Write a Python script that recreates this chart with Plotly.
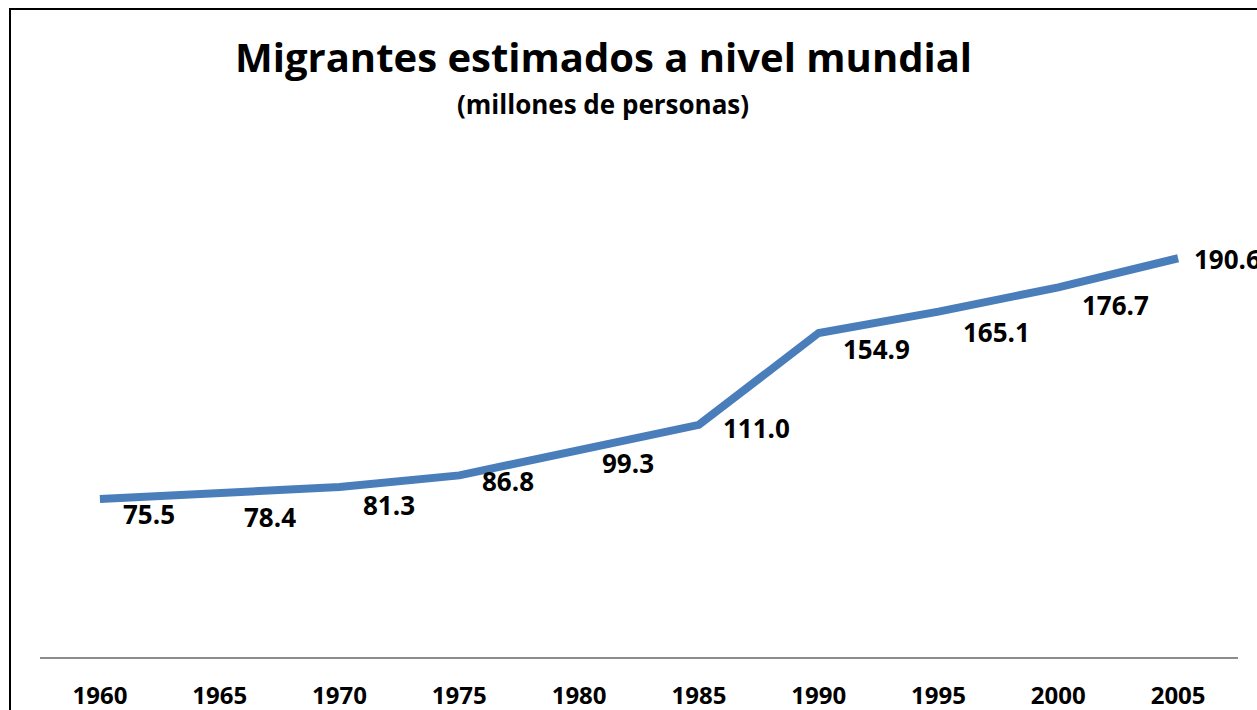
import plotly.graph_objects as go

years = ["1960", "1965", "1970", "1975", "1980", "1985", "1990", "1995", "2000", "2005"]
migrants = [75.5, 78.4, 81.3, 86.8, 99.3, 111.0, 154.9, 165.1, 176.7, 190.6]
title_text = "Migrantes estimados a nivel mundial"
subtitle_text = "(millones de personas)"

# label placement offsets in pixels (style only)
label_dx = [21, 22, 21, 21, 21, 22, 22, 22, 22, 14]
label_dy = [15, 24, 18, 6, 14, 3, 16, 20, 18, 1]

FONT = "Open Sans"
LINE_COLOR = "#4A7EBB"

W, H = 1257, 710
L, R, T, B = 40, 19, 134, 53
plot_h = H - T - B
plot_w = W - L - R

def px_to_paper_y(y):
    return (H - B - y) / plot_h

def px_to_paper_x(x):
    return (x - L) / plot_w

fig = go.Figure()
fig.add_trace(go.Scatter(
    x=years, y=migrants, mode="lines",
    line=dict(color=LINE_COLOR, width=8),
    hoverinfo="x+y",
))

annotations = []
for i, (v, dx, dy) in enumerate(zip(migrants, label_dx, label_dy)):
    annotations.append(dict(
        x=i, y=v, xref="x", yref="y", text=f"<b>{v:.1f}</b>",
        showarrow=False, xanchor="left", yanchor="middle",
        xshift=dx, yshift=-dy,
        font=dict(family=FONT, size=26, color="#000000"),
    ))

annotations.append(dict(
    x=px_to_paper_x(603), y=px_to_paper_y(57), xref="paper", yref="paper",
    text=f"<b>{title_text}</b>", showarrow=False, xanchor="center", yanchor="middle",
    font=dict(family=FONT, size=40, color="#000000"),
))
annotations.append(dict(
    x=px_to_paper_x(603), y=px_to_paper_y(104), xref="paper", yref="paper",
    text=f"<b>{subtitle_text}</b>", showarrow=False, xanchor="center", yanchor="middle",
    font=dict(family=FONT, size=26, color="#000000"),
))

fig.update_layout(
    width=W, height=H,
    margin=dict(l=L, r=R, t=T, b=B, pad=0),
    paper_bgcolor="white", plot_bgcolor="white",
    showlegend=False,
    annotations=annotations,
    shapes=[dict(
        type="rect", xref="paper", yref="paper",
        x0=px_to_paper_x(10), x1=px_to_paper_x(1400),
        y0=px_to_paper_y(800), y1=px_to_paper_y(9),
        line=dict(color="#000000", width=2), fillcolor="rgba(0,0,0,0)", layer="above",
    )],
    xaxis=dict(
        type="category", range=[-0.5, 9.5], automargin=False,
        showgrid=False, zeroline=False,
        showline=True, linecolor="#8C8C8C", linewidth=2,
        ticks="", tickfont=dict(family=FONT, size=24, color="#000000", weight="bold"),
        ticklabelstandoff=16,
    ),
    yaxis=dict(
        range=[0, 250], visible=False, showgrid=False, zeroline=False, automargin=False,
    ),
)

fig.write_html(
    "out.html",
    config={"displayModeBar": False},
    post_script="document.body.style.margin='0';document.body.style.overflow='hidden';",
)
